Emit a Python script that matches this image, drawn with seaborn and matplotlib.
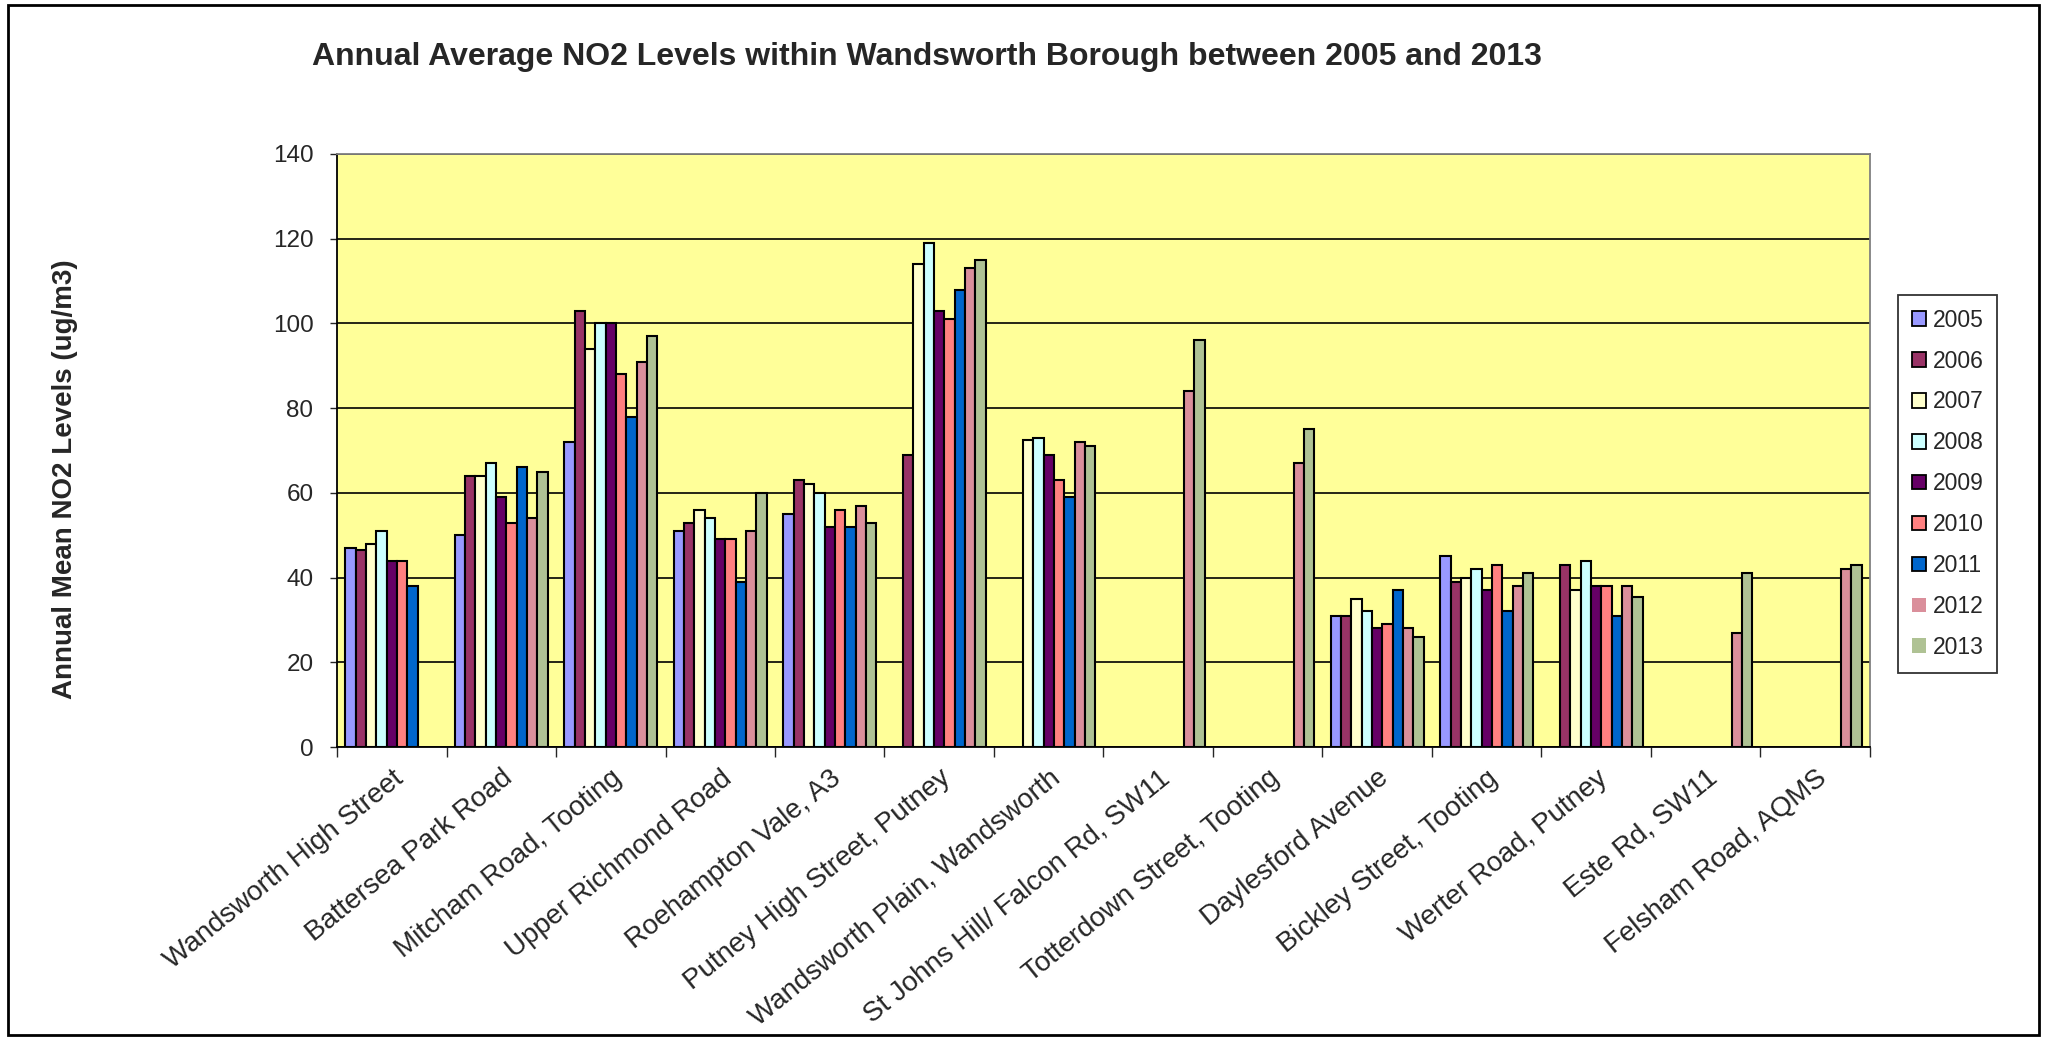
import numpy as np
import pandas as pd
import matplotlib
matplotlib.use('Agg')
import matplotlib.pyplot as plt
import seaborn as sns
from matplotlib.patches import Patch, Rectangle

# sites along the category axis
sites = [
    "Wandsworth High Street", "Battersea Park Road", "Mitcham Road, Tooting",
    "Upper Richmond Road", "Roehampton Vale, A3", "Putney High Street, Putney",
    "Wandsworth Plain, Wandsworth", "St Johns Hill/ Falcon Rd, SW11",
    "Totterdown Street, Tooting", "Daylesford Avenue", "Bickley Street, Tooting",
    "Werter Road, Putney", "Este Rd, SW11", "Felsham Road, AQMS",
]
years = ["2005", "2006", "2007", "2008", "2009", "2010", "2011", "2012", "2013"]

nan = np.nan
# one list per year, values per site (NaN = no measurement)
no2_2005 = [47, 50, 72, 51, 55, nan, nan, nan, nan, 31, 45, nan, nan, nan]
no2_2006 = [46.5, 64, 103, 53, 63, 69, nan, nan, nan, 31, 39, 43, nan, nan]
no2_2007 = [48, 64, 94, 56, 62, 114, 72.5, nan, nan, 35, 40, 37, nan, nan]
no2_2008 = [51, 67, 100, 54, 60, 119, 73, nan, nan, 32, 42, 44, nan, nan]
no2_2009 = [44, 59, 100, 49, 52, 103, 69, nan, nan, 28, 37, 38, nan, nan]
no2_2010 = [44, 53, 88, 49, 56, 101, 63, nan, nan, 29, 43, 38, nan, nan]
no2_2011 = [38, 66, 78, 39, 52, 108, 59, nan, nan, 37, 32, 31, nan, nan]
no2_2012 = [nan, 54, 91, 51, 57, 113, 72, 84, 67, 28, 38, 38, 27, 42]
no2_2013 = [nan, 65, 97, 60, 53, 115, 71, 96, 75, 26, 41, 35.5, 41, 43]

series = [no2_2005, no2_2006, no2_2007, no2_2008, no2_2009,
          no2_2010, no2_2011, no2_2012, no2_2013]

colors = {
    "2005": "#9999FF", "2006": "#993366", "2007": "#FFFFCC", "2008": "#CCFFFF",
    "2009": "#660066", "2010": "#FF8080", "2011": "#0066CC",
    "2012": "#DA8F9B", "2013": "#AFC294",
}

rows = []
for yr, vals in zip(years, series):
    for site, v in zip(sites, vals):
        rows.append({"Site": site, "Year": yr, "Value": v})
df = pd.DataFrame(rows).dropna()

sns.set_style("white")
plt.rcParams['font.family'] = ['Liberation Sans', 'DejaVu Sans']

W, H = 2047, 1040
fig = plt.figure(figsize=(W / 100, H / 100), dpi=100)
fig.patch.set_facecolor('white')
ax = fig.add_axes([337 / W, 1 - 747 / H, 1533 / W, 593 / H])
ax.set_facecolor('#FFFF99')

sns.barplot(data=df, x="Site", y="Value", hue="Year", order=sites, hue_order=years,
            palette=colors, width=0.85, edgecolor='black', linewidth=1.5,
            saturation=1, legend=False, ax=ax, zorder=3)

# the 2012/2013 bars are soft, without outlines
for cont in ax.containers:
    if cont.get_label() in ("2012", "2013"):
        for p in cont.patches:
            p.set_edgecolor('none')
            p.set_alpha(0.9)

ax.set_ylim(0, 140)
ax.set_xlim(-0.5, len(sites) - 0.5)
ax.set_yticks(range(0, 141, 20))
ax.yaxis.grid(True, color='black', linewidth=1.2, zorder=1)
ax.set_axisbelow(True)
ax.set_xlabel('')
ax.set_ylabel('')

ax.tick_params(axis='y', labelsize=17.5, length=5, width=1, direction='out', pad=12, left=True)
ax.set_xticks(range(len(sites)))
ax.set_xticklabels(sites, rotation=39, ha='right', rotation_mode='anchor', fontsize=20)
ax.tick_params(axis='x', which='major', length=0, pad=13)
ax.set_xticks(np.arange(-0.5, len(sites), 1), minor=True)
ax.tick_params(axis='x', which='minor', length=7, width=1, direction='out', bottom=True)

for side in ['left', 'bottom']:
    ax.spines[side].set_color('black')
    ax.spines[side].set_linewidth(1.3)
for side in ['top', 'right']:
    ax.spines[side].set_color('#808080')
    ax.spines[side].set_linewidth(1.3)

handles = []
for yr in years:
    ec = 'black' if yr not in ("2012", "2013") else 'none'
    handles.append(Patch(facecolor=colors[yr], edgecolor=ec, linewidth=1.3, label=yr))
leg = fig.legend(handles=handles, loc='upper left', bbox_to_anchor=(1898 / W, 1 - 295 / H),
                 fontsize=16.5, frameon=True, fancybox=False, edgecolor='black',
                 handlelength=0.6, handleheight=0.6, handletextpad=0.3,
                 labelspacing=0.78, borderpad=0.6, borderaxespad=0)
leg.get_frame().set_linewidth(1.3)

fig.text(927 / W, 1 - 57 / H,
         "Annual Average NO2 Levels within Wandsworth Borough between 2005 and 2013",
         ha='center', va='center', fontsize=23, fontweight='bold')
fig.text(65 / W, 1 - 479 / H, "Annual Mean NO2 Levels (ug/m3)", rotation=90,
         ha='center', va='center', fontsize=20, fontweight='bold')

fig.patches.append(Rectangle((8 / W, 5 / H), (2039 - 8) / W, (1035 - 5) / H,
                             transform=fig.transFigure, fill=False,
                             edgecolor='black', linewidth=2))

fig.savefig('out.png', dpi=100)
